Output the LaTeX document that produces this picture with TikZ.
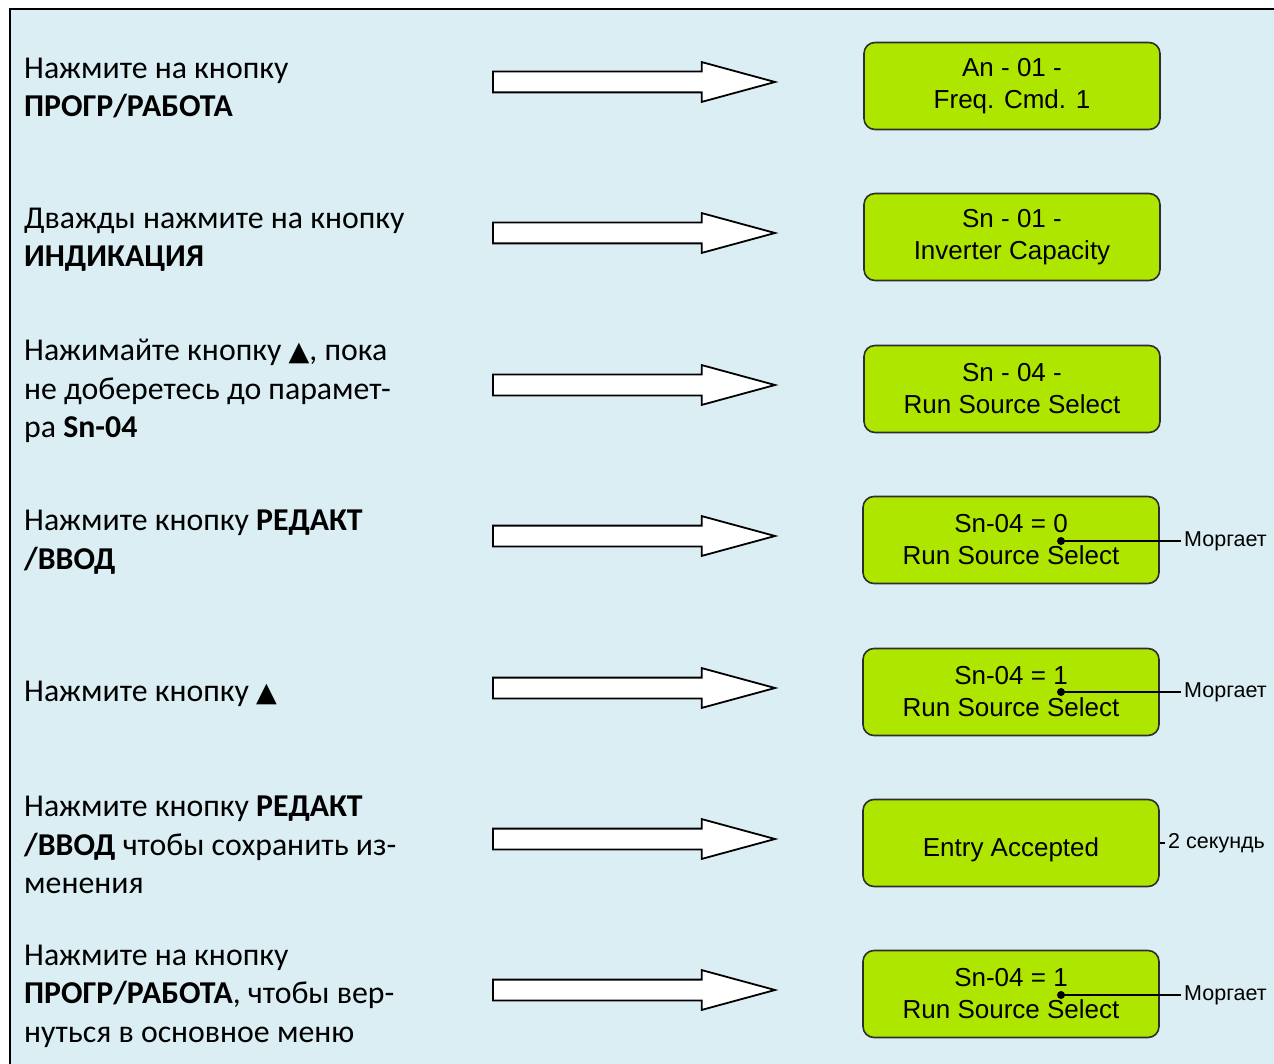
\documentclass[tikz,border=0pt]{standalone}
\usepackage{fontspec}
\usetikzlibrary{shapes.arrows}
\setmainfont{Carlito}
\newfontfamily\lcdfont{Liberation Sans}
\newfontfamily\symfont{DejaVu Sans}
\definecolor{cellblue}{HTML}{DAEEF3}
\definecolor{lcdgreen}{HTML}{AEE600}
\definecolor{lcdedge}{HTML}{2E2E2E}
\newcommand{\upkey}{{\symfont\fontsize{27}{38}\selectfont ▲}}

\begin{document}
\begin{tikzpicture}[x=1pt, y=-1pt,
  step node/.style={anchor=west, align=left, inner sep=0pt, font=\fontsize{31.8}{38.5}\selectfont},
  lcd node/.style={draw=lcdedge, line width=1.6pt, fill=lcdgreen, rounded corners=11pt,
    minimum width=296pt, minimum height=87pt, inner sep=0pt, align=center,
    font=\lcdfont\fontsize{26}{32}\selectfont},
  arrow node/.style={single arrow, draw, line width=1.8pt, fill=white, anchor=tail,
    minimum height=282pt, inner xsep=0pt, inner ysep=9.5pt, outer sep=0pt,
    single arrow head extend=9.5pt, single arrow tip angle=30.4},
  dot node/.style={circle, fill, inner sep=0pt, minimum size=8pt},
  note node/.style={anchor=west, inner sep=3pt, font=\lcdfont\fontsize{21.5}{24}\selectfont}]
\useasboundingbox (0,0) rectangle (1274,1064);
\fill[white] (0,0) rectangle (1274,1064);
\fill[cellblue] (10,10) rectangle (1274,1064);
\draw[line width=2pt] (9.5,1064) -- (9.5,9.5) -- (1274,9.5);

% instructions
\node[step node] (t1) at (24,88)  {Нажмите на кнопку\\\textbf{ПРОГР/РАБОТА}};
\node[step node] (t2) at (24,239.5) {Дважды нажмите на кнопку\\\textbf{ИНДИКАЦИЯ}};
\node[step node] (t3) at (24,391) {Нажимайте кнопку \upkey, пока\\не доберетесь до парамет-\\ра \textbf{Sn-04}};
\node[step node] (t4) at (24,542) {Нажмите кнопку \textbf{РЕДАКТ}\\\textbf{/ВВОД}};
\node[step node] (t5) at (24,693.5) {Нажмите кнопку \upkey};
\node[step node] (t6) at (24,845) {Нажмите кнопку \textbf{РЕДАКТ}\\\textbf{/ВВОД} чтобы сохранить из-\\менения};
\node[step node] (t7) at (24,996) {Нажмите на кнопку\\\textbf{ПРОГР/РАБОТА}, чтобы вер-\\нуться в основное меню};

% arrows
\foreach \i/\y in {1/82, 2/233, 3/385, 4/536, 5/688, 6/839, 7/990}
  \node[arrow node] (a\i) at (493,\y) {};

% displays
\node[lcd node] (d1) at (1012,86)  {An - 01 -\\Freq. Cmd. 1};
\node[lcd node] (d2) at (1012,237) {Sn - 01 -\\Inverter Capacity};
\node[lcd node] (d3) at (1012,389) {Sn - 04 -\\Run Source Select};
\node[lcd node] (d4) at (1011,540) {Sn-04 = 0\\Run Source Select};
\node[lcd node] (d5) at (1011,692) {Sn-04 = 1\\Run Source Select};
\node[lcd node] (d6) at (1011,843) {\mbox{}\\Entry Accepted};
\node[lcd node] (d7) at (1011,994) {Sn-04 = 1\\Run Source Select};

% notes
\node[dot node] (p4) at (1061,541) {};
\node[note node] (n4) at (1181,541) {Моргает};
\draw[line width=1.8pt] (p4.center) -- (n4);
\node[dot node] (p5) at (1061,692) {};
\node[note node] (n5) at (1181,692) {Моргает};
\draw[line width=1.8pt] (p5.center) -- (n5);
\node[note node] (n6) at (1165,843) {2 секундь};
\draw[line width=1.8pt] (d6) -- (n6);
\node[dot node] (p7) at (1061,995) {};
\node[note node] (n7) at (1181,995) {Моргает};
\draw[line width=1.8pt] (p7.center) -- (n7);
\end{tikzpicture}
\end{document}
